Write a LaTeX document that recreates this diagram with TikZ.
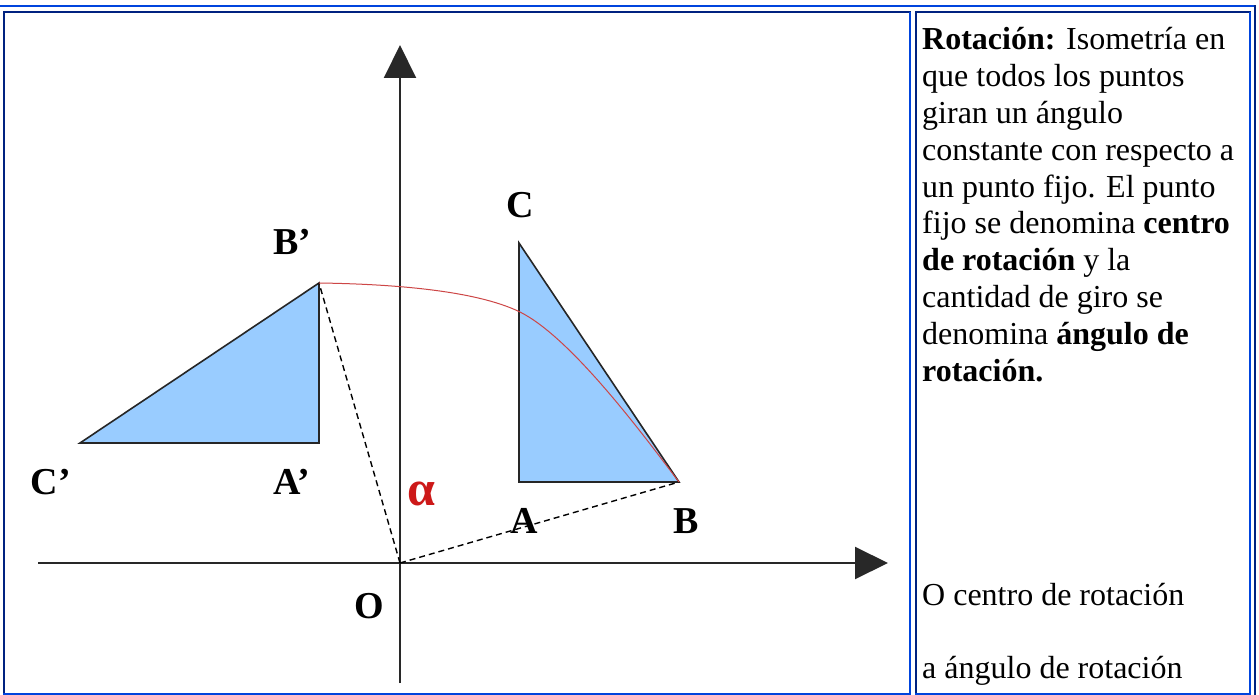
\documentclass[tikz,border=0pt]{standalone}
\usepackage{fontspec}
\setmainfont{Liberation Serif}
\usepackage{tikz}
\usetikzlibrary{arrows.meta,positioning}
\definecolor{cellnavy}{RGB}{0,34,128}
\definecolor{cellblue}{RGB}{0,68,221}
\definecolor{trifill}{RGB}{153,204,255}
\definecolor{arcred}{RGB}{205,70,70}
\definecolor{alphared}{RGB}{205,25,25}
\definecolor{axisgray}{RGB}{40,40,40}
\tikzset{
  ptlabel/.style={font=\fontsize{38}{44}\selectfont\bfseries, inner sep=0pt},
  trishape/.style={fill=trifill, draw=black!85, line width=1.6pt},
  ray/.style={dash pattern=on 6pt off 4pt, line width=1.4pt},
  axisline/.style={line width=2pt, draw=axisgray, -{Triangle[length=33pt,width=32pt]}},
  cellnote/.style={font=\fontsize{32}{36.9}\selectfont, inner sep=0pt, align=left}
}

\begin{document}
\begin{tikzpicture}[x=1pt,y=-1pt]
\fill[white] (0,0) rectangle (1259,695);
\useasboundingbox (0,0) rectangle (1259,695);
% table borders
\draw[cellblue,line width=2pt] (0,6.5) -- (1256,6.5);
\draw[cellnavy,line width=2pt] (1255,5.5) -- (1255,695);
\draw[cellnavy,line width=2pt] (3.5,695) -- (3.5,12.5) -- (911,12.5);
\draw[cellblue,line width=2pt] (910,12) -- (910,694) -- (3,694);
\draw[cellnavy,line width=2pt] (915.5,695) -- (915.5,12.5) -- (1251,12.5);
\draw[cellblue,line width=2pt] (1250,12) -- (1250,694) -- (915,694);
% points
\coordinate (O) at (400,563);
\coordinate (A) at (519,482);
\coordinate (B) at (679,482);
\coordinate (C) at (519,243);
\coordinate (A') at (319,443);
\coordinate (B') at (319,283);
\coordinate (C') at (80,443);
\coordinate (arcmid) at (520,312);
\coordinate (xstart) at (38,563);
\coordinate (xend) at (888,563);
\coordinate (ystart) at (400,683);
\coordinate (yend) at (400,45);
% axes
\draw[axisline] (xstart) -- (xend);
\draw[axisline] (ystart) -- (yend);
% triangles
\draw[trishape] (A) -- (B) -- (C) -- cycle;
\draw[trishape] (A') -- (B') -- (C') -- cycle;
\draw[ray] (O) -- (B');
\draw[ray] (O) -- (B);
\draw[arcred,line width=1pt] (B') .. controls (390,284) and (475,290) .. (arcmid)
  .. controls (570,337) and (639,429) .. (B);
% labels
\node[ptlabel] (lC) at (520,205) {C};
\node[ptlabel] (lB') at (292,242) {B'};
\node[ptlabel] (lC') at (51,482) {C'};
\node[ptlabel] (lA') at (292,482) {A'};
\node[ptlabel] (lA) at (524,521) {A};
\node[ptlabel] (lB) at (686,521) {B};
\node[ptlabel] (lO) at (369,606) {O};
\node[font=\fontsize{50}{54}\selectfont\bfseries, text=alphared, inner sep=0pt] (lalpha) at (421,494) {α};
% text cell
\node[cellnote, anchor=north west] (rotdef) at (922,27) {\textbf{Rotación:} Isometría en\\que todos los puntos\\giran un ángulo\\constante con respecto a\\un punto fijo. El punto\\fijo se denomina \textbf{centro}\\\textbf{de rotación} y la\\cantidad de giro se\\denomina \textbf{ángulo de}\\\textbf{rotación.}};
\node[cellnote, anchor=base west] (keyO) at (922,605) {O centro de rotación};
\node[cellnote, anchor=base west] (keya) at (922,678) {a ángulo de rotación};
\end{tikzpicture}
\end{document}
